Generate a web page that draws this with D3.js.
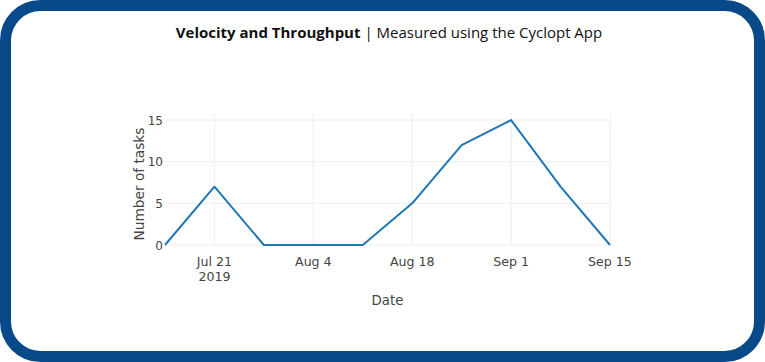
<!DOCTYPE html>
<html>
<head>
<meta charset="utf-8">
<script src="https://cdn.jsdelivr.net/npm/d3@7"></script>
<style>
  html, body { margin: 0; padding: 0; background: #ffffff; }
  svg { display: block; }
</style>
</head>
<body>
<svg id="chart" width="765" height="362"></svg>
<script>
// ---- data ----
const dates = ["2019-07-14", "2019-07-21", "2019-07-28", "2019-08-04", "2019-08-11",
               "2019-08-18", "2019-08-25", "2019-09-01", "2019-09-08", "2019-09-15"];
const tasks = [0, 7, 0, 0, 0, 5, 12, 15, 7, 0];
const xTickDates = ["2019-07-21", "2019-08-04", "2019-08-18", "2019-09-01", "2019-09-15"];
const xTickLabels = ["Jul 21", "Aug 4", "Aug 18", "Sep 1", "Sep 15"];
const xTickSubLabels = ["2019", "", "", "", ""];
const yTicks = [0, 5, 10, 15];
const titleBold = "Velocity and Throughput";
const titleRest = " | Measured using the Cyclopt App";
const xTitle = "Date";
const yTitle = "Number of tasks";

(function () {
const parse = d3.timeParse("%Y-%m-%d");
const svg = d3.select("#chart");

// frame
svg.append("rect")
  .attr("x", 5.5).attr("y", 5.5)
  .attr("width", 754).attr("height", 351)
  .attr("rx", 35).attr("ry", 35)
  .attr("fill", "#ffffff")
  .attr("stroke", "#08498a")
  .attr("stroke-width", 11);

const pLeft = 165, pRight = 610, pTop = 113, pBottom = 245;

const x = d3.scaleTime()
  .domain([parse(dates[0]), parse(dates[dates.length - 1])])
  .range([pLeft, pRight]);
const y = d3.scaleLinear().domain([0, 15.85]).range([pBottom, pTop]);

// grid
const g = svg.append("g");
g.selectAll(".vgrid").data(xTickDates).enter().append("line")
  .attr("x1", d => x(parse(d))).attr("x2", d => x(parse(d)))
  .attr("y1", pTop).attr("y2", pBottom)
  .attr("stroke", "#eeeeee").attr("stroke-width", 1);
g.selectAll(".hgrid").data(yTicks).enter().append("line")
  .attr("x1", pLeft).attr("x2", pRight)
  .attr("y1", d => y(d)).attr("y2", d => y(d))
  .attr("stroke", "#eeeeee").attr("stroke-width", 1);

// line
const line = d3.line()
  .x((d, i) => x(parse(dates[i])))
  .y(d => y(d));
svg.append("path")
  .datum(tasks)
  .attr("d", line)
  .attr("fill", "none")
  .attr("stroke", "#1f77b4")
  .attr("stroke-width", 2)
  .attr("stroke-linejoin", "round");

const tickFont = "'DejaVu Sans', Verdana, sans-serif";

// y ticks
svg.selectAll(".ytick").data(yTicks).enter().append("text")
  .attr("x", pLeft - 2).attr("y", d => y(d) + 4.5)
  .attr("text-anchor", "end")
  .attr("font-family", tickFont).attr("font-size", 12)
  .attr("fill", "#444").text(d => d);

// x ticks
xTickDates.forEach((d, i) => {
  svg.append("text")
    .attr("x", x(parse(d))).attr("y", 266)
    .attr("text-anchor", "middle")
    .attr("font-family", tickFont).attr("font-size", 12.6)
    .attr("fill", "#444").text(xTickLabels[i]);
  if (xTickSubLabels[i]) {
    svg.append("text")
      .attr("x", x(parse(d))).attr("y", 281)
      .attr("text-anchor", "middle")
      .attr("font-family", tickFont).attr("font-size", 12.6)
      .attr("fill", "#444").text(xTickSubLabels[i]);
  }
});

// axis titles
svg.append("text")
  .attr("x", (pLeft + pRight) / 2).attr("y", 305)
  .attr("text-anchor", "middle")
  .attr("font-family", tickFont).attr("font-size", 13.3)
  .attr("fill", "#444").text(xTitle);
svg.append("text")
  .attr("transform", `translate(143.5, 184) rotate(-90)`)
  .attr("text-anchor", "middle")
  .attr("font-family", tickFont).attr("font-size", 13.7)
  .attr("fill", "#444").text(yTitle);

// title
const title = svg.append("text")
  .attr("x", 389).attr("y", 38)
  .attr("text-anchor", "middle")
  .attr("font-family", "'Open Sans', sans-serif").attr("font-size", 15)
  .attr("fill", "#111");
title.append("tspan").attr("font-weight", "bold").text(titleBold);
title.append("tspan").text(titleRest);
})();
</script>
</body>
</html>
